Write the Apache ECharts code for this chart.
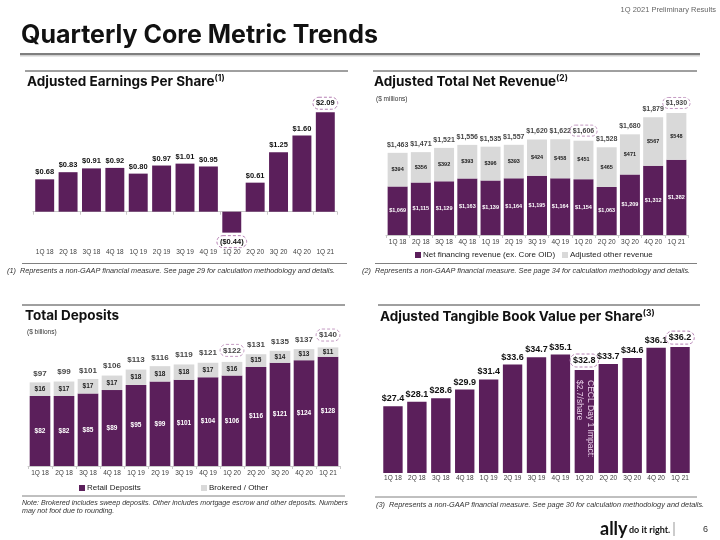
<!DOCTYPE html>
<html><head><meta charset="utf-8">
<script src="https://cdn.jsdelivr.net/npm/echarts@6/dist/echarts.min.js"></script>
<style>html,body{margin:0;padding:0;background:#fff}#c{width:720px;height:540px}</style>
</head><body><div id="c"></div>
<script>
// ---------- data ----------
const quarters = ['1Q 18','2Q 18','3Q 18','4Q 18','1Q 19','2Q 19','3Q 19','4Q 19','1Q 20','2Q 20','3Q 20','4Q 20','1Q 21'];
const epsValues = [0.68,0.83,0.91,0.92,0.80,0.97,1.01,0.95,-0.44,0.61,1.25,1.60,2.09];
const netFinancingRevenue = [1069,1115,1129,1163,1139,1164,1195,1164,1154,1063,1209,1312,1382];
const otherRevenue = [394,356,392,393,396,393,424,458,451,465,471,567,548];
const totalRevenue = [1463,1471,1521,1556,1535,1557,1620,1622,1606,1528,1680,1879,1930];
const retailDeposits = [82,82,85,89,95,99,101,104,106,116,121,124,128];
const brokeredOther = [16,17,17,17,18,18,18,17,16,15,14,13,11];
const totalDeposits = [97,99,101,106,113,116,119,121,122,131,135,137,140];
const tbvValues = [27.4,28.1,28.6,29.9,31.4,33.6,34.7,35.1,32.8,33.7,34.6,36.1,36.2];
const highlighted = [8,12];
const ceclNote = 'CECL Day 1 Impact:\n$2.7/share';

// ---------- styles ----------
const PURPLE = '#5b1f5b', GRAY = '#d9d9d9', RING = '#b57fb3';
const ARIAL = '"Liberation Sans", Arial, sans-serif';
const ring = {borderColor: RING, borderWidth: 1, borderType: [3,2], borderRadius: 12, padding: [2,3]};
const money = (v, d) => '$' + Number(v).toLocaleString('en-US', {minimumFractionDigits: d, maximumFractionDigits: d});
const epsFmt = v => v < 0 ? '($' + Math.abs(v).toFixed(2) + ')' : '$' + v.toFixed(2);
const withRing = (arr, extra) => arr.map((v, i) => highlighted.includes(i) ? {value: v, label: Object.assign({}, ring, extra ? extra(v) : {})} : (extra ? {value: v, label: extra(v)} : v));

function catAxis(grid, opts) {
  return Object.assign({
    type: 'category', gridIndex: grid, data: quarters,
    axisLine: {lineStyle: {color: '#c8c8c8'}},
    axisTick: {show: true, length: 3, lineStyle: {color: '#c8c8c8'}},
    axisLabel: {fontSize: 6.5, color: '#404040', fontFamily: ARIAL, margin: 4, interval: 0}
  }, opts || {});
}

const titleStyle = (sz) => ({fontFamily: 'Inter', fontWeight: 700, fontSize: sz, color: '#111',
  rich: {s: {fontFamily: 'Inter', fontWeight: 700, fontSize: 8.5, color: '#111', verticalAlign: 'top', padding: [0,0,6,0]}}});
const legendText = {fontFamily: ARIAL, fontSize: 8, color: '#222', padding: [0,0,0,-3]};
const noteFont = 'italic 7.3px "Liberation Sans"';

const chart = echarts.init(document.getElementById('c'), null, {renderer: 'canvas'});
chart.setOption({
  animation: false,
  backgroundColor: '#fff',
  title: [
    {text: 'Quarterly Core Metric Trends', left: 21, top: 23, padding: 0,
     textStyle: {fontFamily: 'Inter', fontWeight: 700, fontSize: 25, color: '#111'}},
    {text: '1Q 2021 Preliminary Results', right: 4, top: 6, padding: 0,
     textStyle: {fontFamily: ARIAL, fontSize: 7.5, fontWeight: 400, color: '#666'}},
    {text: 'Adjusted Earnings Per Share{s|(1)}', left: 27, top: 74, padding: 0, textStyle: titleStyle(13.5)},
    {text: 'Adjusted Total Net Revenue{s|(2)}', left: 374, top: 74, padding: 0, textStyle: titleStyle(13.5)},
    {text: 'Total Deposits', left: 25, top: 309, padding: 0, textStyle: titleStyle(13.5)},
    {text: 'Adjusted Tangible Book Value per Share{s|(3)}', left: 380, top: 309, padding: 0, textStyle: titleStyle(13.5)}
  ],
  legend: [
    {data: ['Net financing revenue (ex. Core OID)'], left: 415, top: 251, icon: 'rect', itemWidth: 6, itemHeight: 6, padding: 0, textStyle: legendText},
    {data: ['Adjusted other revenue'], left: 562, top: 251, icon: 'rect', itemWidth: 6, itemHeight: 6, padding: 0, textStyle: legendText},
    {data: ['Retail Deposits'], left: 79, top: 484, icon: 'rect', itemWidth: 6, itemHeight: 6, padding: 0, textStyle: legendText},
    {data: ['Brokered / Other'], left: 201, top: 484, icon: 'rect', itemWidth: 6, itemHeight: 6, padding: 0, textStyle: legendText}
  ],
  grid: [
    {left: 33, right: 383, top: 107, bottom: 295},
    {left: 386, right: 32, top: 107, bottom: 305},
    {left: 28, right: 380, top: 338, bottom: 74},
    {left: 381, right: 28, top: 335, bottom: 67}
  ],
  xAxis: [
    catAxis(0, {axisLabel: {show: false}}),
    catAxis(0, {position: 'bottom', axisLine: {show: false, onZero: false}, axisTick: {show: false}}),
    catAxis(1),
    catAxis(2),
    catAxis(3, {axisLine: {show: false}, axisTick: {show: false}, axisLabel: {fontSize: 6.5, color: '#404040', fontFamily: ARIAL, margin: 2, interval: 0}})
  ],
  yAxis: [
    {type: 'value', gridIndex: 0, min: -0.7, max: 2.2, show: false},
    {type: 'value', gridIndex: 1, min: 500, max: 2000, show: false},
    {type: 'value', gridIndex: 2, min: 0, max: 150, show: false},
    {type: 'value', gridIndex: 3, min: 17.5, max: 38, show: false}
  ],
  series: [
    // EPS
    {type: 'bar', name: 'Adjusted EPS', xAxisIndex: 0, yAxisIndex: 0, barCategoryGap: '19%',
     itemStyle: {color: PURPLE},
     data: withRing(epsValues, v => v < 0 ? {position: 'bottom'} : {}),
     label: {show: true, position: 'top', distance: 3, fontFamily: ARIAL, fontWeight: 700, fontSize: 7.5, color: '#111',
             formatter: p => epsFmt(p.value)}},
    // Revenue
    {type: 'bar', name: 'Net financing revenue (ex. Core OID)', xAxisIndex: 2, yAxisIndex: 1, stack: 'rev', barCategoryGap: '14%',
     itemStyle: {color: PURPLE}, data: netFinancingRevenue,
     label: {show: true, position: 'inside', fontFamily: ARIAL, fontWeight: 700, fontSize: 5.5, color: '#fff', formatter: p => money(p.value, 0)}},
    {type: 'bar', name: 'Adjusted other revenue', xAxisIndex: 2, yAxisIndex: 1, stack: 'rev',
     itemStyle: {color: GRAY}, data: otherRevenue,
     label: {show: true, position: 'inside', fontFamily: ARIAL, fontWeight: 700, fontSize: 5.5, color: '#222', formatter: p => money(p.value, 0)}},
    {type: 'scatter', name: 'Total revenue', xAxisIndex: 2, yAxisIndex: 1, symbolSize: 1, itemStyle: {color: 'rgba(0,0,0,0)'},
     data: withRing(totalRevenue), z: 5,
     label: {show: true, position: 'top', distance: 4, fontFamily: ARIAL, fontWeight: 700, fontSize: 7, color: '#111', formatter: p => money(p.value, 0)}},
    // Deposits
    {type: 'bar', name: 'Retail Deposits', xAxisIndex: 3, yAxisIndex: 2, stack: 'dep', barCategoryGap: '14%',
     itemStyle: {color: PURPLE}, data: retailDeposits,
     label: {show: true, position: 'inside', fontFamily: ARIAL, fontWeight: 700, fontSize: 6.5, color: '#fff', formatter: p => money(p.value, 0)}},
    {type: 'bar', name: 'Brokered / Other', xAxisIndex: 3, yAxisIndex: 2, stack: 'dep',
     itemStyle: {color: GRAY}, data: brokeredOther,
     label: {show: true, position: 'inside', fontFamily: ARIAL, fontWeight: 700, fontSize: 6.5, color: '#222', formatter: p => money(p.value, 0)}},
    {type: 'scatter', name: 'Total deposits', xAxisIndex: 3, yAxisIndex: 2, symbolSize: 1, itemStyle: {color: 'rgba(0,0,0,0)'},
     data: withRing(totalDeposits), z: 5,
     label: {show: true, position: 'top', distance: 5, fontFamily: ARIAL, fontWeight: 700, fontSize: 8, color: '#111', formatter: p => money(p.value, 0)}},
    // TBV
    {type: 'bar', name: 'Adjusted TBV per share', xAxisIndex: 4, yAxisIndex: 3, barCategoryGap: '19%',
     itemStyle: {color: PURPLE}, data: withRing(tbvValues),
     label: {show: true, position: 'top', distance: 3, fontFamily: ARIAL, fontWeight: 700, fontSize: 9, color: '#111', formatter: p => money(p.value, 1)}},
    {type: 'bar', name: 'CECL note', xAxisIndex: 4, yAxisIndex: 3, barGap: '-100%', z: 5,
     itemStyle: {color: 'rgba(0,0,0,0)'}, data: tbvValues.map((v, i) => i === 8 ? v : '-'),
     label: {show: true, position: 'insideTop', distance: 10, rotate: -90, align: 'left', verticalAlign: 'middle',
             fontFamily: ARIAL, fontSize: 8.5, lineHeight: 11, color: '#e8cfe8', formatter: ceclNote}}
  ],
  graphic: [
    {type: 'rect', shape: {x: 20, y: 53, width: 680, height: 2}, style: {fill: '#7f7f7f'}},
    {type: 'rect', shape: {x: 20, y: 55, width: 680, height: 1.5}, style: {fill: '#d0d0d0'}},
    {type: 'line', shape: {x1: 25, y1: 71, x2: 348, y2: 71}, style: {stroke: '#404040', lineWidth: 1}},
    {type: 'line', shape: {x1: 373, y1: 71, x2: 697, y2: 71}, style: {stroke: '#404040', lineWidth: 1}},
    {type: 'line', shape: {x1: 22, y1: 305, x2: 345, y2: 305}, style: {stroke: '#404040', lineWidth: 1}},
    {type: 'line', shape: {x1: 378, y1: 305, x2: 700, y2: 305}, style: {stroke: '#404040', lineWidth: 1}},
    {type: 'line', shape: {x1: 22, y1: 263.5, x2: 347, y2: 263.5}, style: {stroke: '#808080', lineWidth: 1}},
    {type: 'line', shape: {x1: 375, y1: 263.5, x2: 697, y2: 263.5}, style: {stroke: '#808080', lineWidth: 1}},
    {type: 'line', shape: {x1: 22, y1: 496, x2: 345, y2: 496}, style: {stroke: '#808080', lineWidth: 1}},
    {type: 'line', shape: {x1: 375, y1: 497, x2: 697, y2: 497}, style: {stroke: '#808080', lineWidth: 1}},
    {type: 'text', x: 376, y: 99, style: {text: '($ millions)', font: '6.5px "Liberation Sans"', fill: '#333', verticalAlign: 'middle', textVerticalAlign: 'middle'}},
    {type: 'text', x: 27, y: 332, style: {text: '($ billions)', font: '6.5px "Liberation Sans"', fill: '#333', verticalAlign: 'middle', textVerticalAlign: 'middle'}},
    {type: 'text', x: 7, y: 271, style: {text: '(1)  Represents a non-GAAP financial measure. See page 29 for calculation methodology and details.', font: noteFont, fill: '#333', verticalAlign: 'middle', textVerticalAlign: 'middle'}},
    {type: 'text', x: 362, y: 271, style: {text: '(2)  Represents a non-GAAP financial measure. See page 34 for calculation methodology and details.', font: noteFont, fill: '#333', verticalAlign: 'middle', textVerticalAlign: 'middle'}},
    {type: 'text', x: 22, y: 503, style: {text: 'Note: Brokered includes sweep deposits. Other includes mortgage escrow and other deposits. Numbers', font: 'italic 7.1px "Liberation Sans"', fill: '#333', verticalAlign: 'middle', textVerticalAlign: 'middle'}},
    {type: 'text', x: 22, y: 511, style: {text: 'may not foot due to rounding.', font: 'italic 7.1px "Liberation Sans"', fill: '#333', verticalAlign: 'middle', textVerticalAlign: 'middle'}},
    {type: 'text', x: 376, y: 505, style: {text: '(3)  Represents a non-GAAP financial measure. See page 30 for calculation methodology and details.', font: noteFont, fill: '#333', verticalAlign: 'middle', textVerticalAlign: 'middle'}},
    {type: 'text', x: 600, y: 529, style: {text: 'ally', font: 'bold 18px Lato', fill: '#111', verticalAlign: 'middle', textVerticalAlign: 'middle'}},
    {type: 'text', x: 629, y: 530, style: {text: 'do it right.', font: 'bold 9px Lato', fill: '#111', verticalAlign: 'middle', textVerticalAlign: 'middle'}},
    {type: 'line', shape: {x1: 674, y1: 522, x2: 674, y2: 536}, style: {stroke: '#999', lineWidth: 1}},
    {type: 'text', x: 703, y: 530, style: {text: '6', font: '9px "Liberation Sans"', fill: '#333', verticalAlign: 'middle', textVerticalAlign: 'middle'}}
  ]
});
</script>
</body></html>
